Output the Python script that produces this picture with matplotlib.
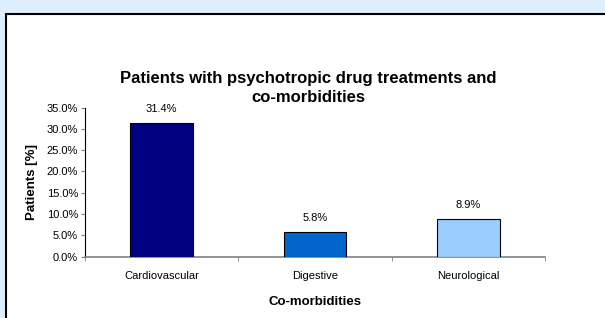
import matplotlib
matplotlib.use("Agg")
import matplotlib.pyplot as plt
from matplotlib.patches import Rectangle

categories = ["Cardiovascular", "Digestive", "Neurological"]
patients_pct = [31.4, 5.8, 8.9]
bar_colors = ["#000080", "#0066CC", "#99CCFF"]
y_ticks = [0, 5, 10, 15, 20, 25, 30, 35]

plt.rcParams["font.family"] = ["Liberation Sans", "DejaVu Sans"]

fig = plt.figure(figsize=(6.05, 3.18), dpi=100)
fig.patch.set_facecolor("#DDEFFD")

# white chart panel with black border (runs off the right/bottom edges)
panel = Rectangle((6 / 605, -0.1), 1.0, (318 - 14) / 318 + 0.1,
                  transform=fig.transFigure, facecolor="white",
                  edgecolor="black", linewidth=1.5, zorder=-1)
fig.patches.append(panel)

ax = fig.add_axes([85 / 605, 61.3 / 318, 460 / 605, 149.2 / 318])
ax.set_zorder(2)
ax.set_facecolor("none")

x = range(len(categories))
bars = ax.bar(x, patients_pct, width=0.41, color=bar_colors,
              edgecolor="black", linewidth=0.8, zorder=3)

for b, v in zip(bars, patients_pct):
    ax.text(b.get_x() + b.get_width() / 2, v + 2.1, f"{v:.1f}%",
            ha="center", va="bottom", fontsize=8)

ax.set_xlim(-0.5, 2.5)
ax.set_ylim(0, 35)
ax.set_yticks(y_ticks)
ax.set_yticklabels([f"{t:.1f}%" for t in y_ticks], fontsize=8)

ax.set_xticks(list(x))
ax.set_xticklabels(categories, fontsize=8)
ax.tick_params(axis="x", which="major", length=0, pad=10)
ax.set_xticks([-0.5, 0.5, 1.5, 2.5], minor=True)
ax.tick_params(axis="x", which="minor", length=3, color="#808080", direction="out")
ax.tick_params(axis="y", length=3, color="#808080", pad=2)

for side in ("top", "right"):
    ax.spines[side].set_visible(False)
ax.spines["left"].set_color("black")
ax.spines["left"].set_linewidth(0.8)
ax.spines["bottom"].set_color("#808080")
ax.spines["bottom"].set_linewidth(1.2)

ax.set_ylabel("Patients [%]", fontsize=9.5, fontweight="bold", labelpad=6)
ax.set_xlabel("Co-morbidities", fontsize=9.5, fontweight="bold", labelpad=11)

fig.text(308 / 605, 1 - 88 / 318,
         "Patients with psychotropic drug treatments and\nco-morbidities",
         ha="center", va="center", fontsize=12, fontweight="bold",
         linespacing=1.3)

fig.savefig("out.png", dpi=100, facecolor=fig.get_facecolor())
